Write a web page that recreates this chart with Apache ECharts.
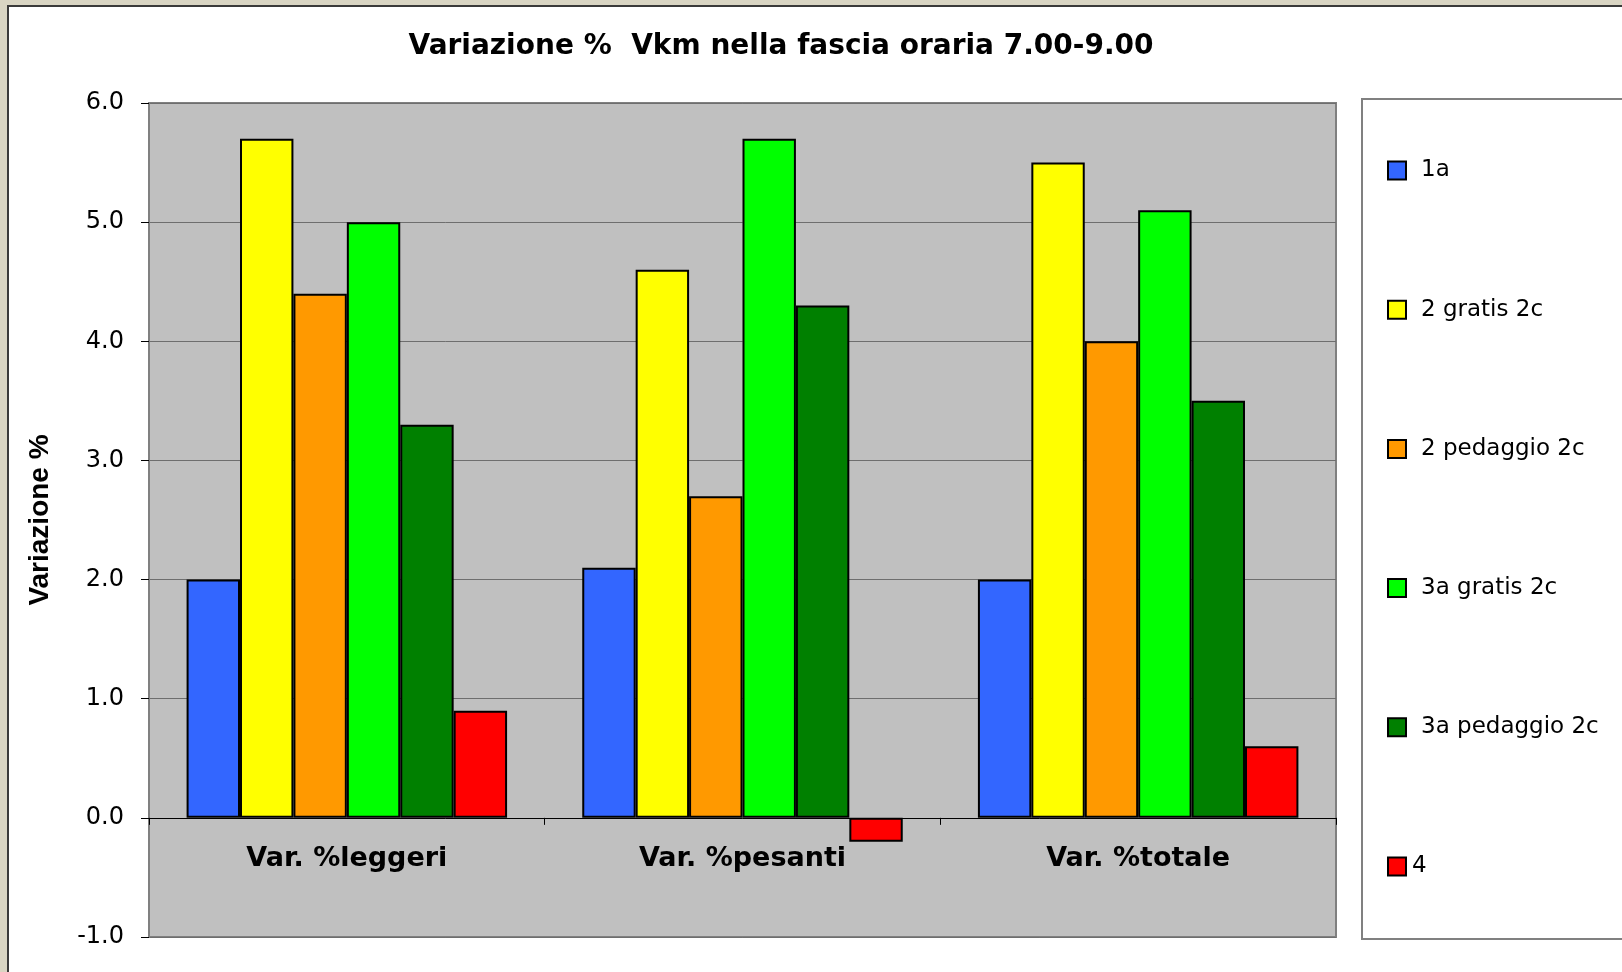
<!DOCTYPE html>
<html>
<head>
<meta charset="utf-8">
<script src="https://cdn.jsdelivr.net/npm/echarts@6/dist/echarts.min.js"></script>
<style>
  html, body { margin: 0; padding: 0; background: #d9d5c3; }
  #main { width: 1622px; height: 972px; }
</style>
</head>
<body>
<div id="main"></div>
<script>
// dati
var categorie = ['Var. %leggeri', 'Var. %pesanti', 'Var. %totale'];
var nomiSerie = ['1a', '2 gratis 2c', '2 pedaggio 2c', '3a gratis 2c', '3a pedaggio 2c', '4'];
var colori = ['#3366ff', '#ffff00', '#ff9900', '#00ff00', '#008000', '#ff0000'];
var v1a = [2.0, 2.1, 2.0];
var v2gratis = [5.7, 4.6, 5.5];
var v2pedaggio = [4.4, 2.7, 4.0];
var v3agratis = [5.0, 5.7, 5.1];
var v3apedaggio = [3.3, 4.3, 3.5];
var v4 = [0.9, -0.2, 0.6];
var valori = [v1a, v2gratis, v2pedaggio, v3agratis, v3apedaggio, v4];
var yMin = -1, yMax = 6;

var chart = echarts.init(document.getElementById('main'), null, { renderer: 'canvas' });

var gridTop = 103, gridBottom = 35;
var altezzaGrid = 972 - gridTop - gridBottom;
// l'asse delle categorie sta sullo zero, con le etichette sotto
var offsetZero = -altezzaGrid * (0 - yMin) / (yMax - yMin);

var series = nomiSerie.map(function (nome, i) {
  return {
    name: nome,
    type: 'bar',
    data: valori[i],
    barGap: '0%',
    barCategoryGap: '19%',
    itemStyle: { color: colori[i], borderColor: '#000', borderWidth: 2 }
  };
});

var option = {
  animation: false,
  backgroundColor: 'transparent',
  graphic: [
    { type: 'rect', z: -10, shape: { x: 8, y: 6, width: 1700, height: 1100 },
      style: { fill: '#ffffff', stroke: '#3a3a3a', lineWidth: 2 } },
    { type: 'rect', z: -9, shape: { x: 1362, y: 99, width: 400, height: 840 },
      style: { fill: '#ffffff', stroke: '#808080', lineWidth: 2 } }
  ],
  title: {
    text: 'Variazione %  Vkm nella fascia oraria 7.00-9.00',
    left: 776,
    textAlign: 'center',
    top: 28,
    textStyle: { fontFamily: 'DejaVu Sans', fontWeight: 'bold', fontSize: 28, color: '#000' }
  },
  legend: {
    orient: 'vertical',
    left: 1387,
    top: 159,
    padding: 0,
    itemWidth: 18,
    itemHeight: 18,
    itemGap: 116.2,
    icon: 'rect',
    data: nomiSerie.map(function (n) {
      return n === '4'
        ? { name: n, textStyle: { padding: [0, 0, 0, 1] } }
        : { name: n };
    }),
    textStyle: { fontFamily: 'DejaVu Sans', fontSize: 23, color: '#000', padding: [0, 0, 0, 10] }
  },
  grid: {
    left: 149, top: gridTop, right: 286, bottom: gridBottom,
    outerBoundsMode: 'none',
    show: true,
    backgroundColor: '#c0c0c0',
    borderColor: '#808080',
    borderWidth: 2
  },
  xAxis: {
    type: 'category',
    data: categorie,
    position: 'bottom',
    offset: offsetZero,
    axisLine: { onZero: false, lineStyle: { color: '#000', width: 1 } },
    axisTick: { show: true, length: 7, lineStyle: { color: '#000' } },
    axisLabel: {
      margin: 28,
      fontFamily: 'DejaVu Sans', fontWeight: 'bold', fontSize: 27, color: '#000'
    },
    splitLine: { show: false }
  },
  yAxis: {
    type: 'value',
    min: yMin,
    max: yMax,
    interval: 1,
    name: 'Variazione %',
    nameLocation: 'middle',
    nameGap: 95,
    nameTextStyle: { fontFamily: 'Liberation Sans', fontWeight: 'bold', fontSize: 28, color: '#000' },
    axisLine: { show: true, lineStyle: { color: '#808080', width: 2 } },
    axisTick: { show: true, inside: false, length: 8, lineStyle: { color: '#000' } },
    axisLabel: {
      margin: 25,
      formatter: function (v) { return v.toFixed(1); },
      fontFamily: 'DejaVu Sans', fontSize: 24, color: '#000'
    },
    splitLine: { show: true, lineStyle: { color: '#6e6e6e', width: 1 } }
  },
  series: series
};

chart.setOption(option);
</script>
</body>
</html>
